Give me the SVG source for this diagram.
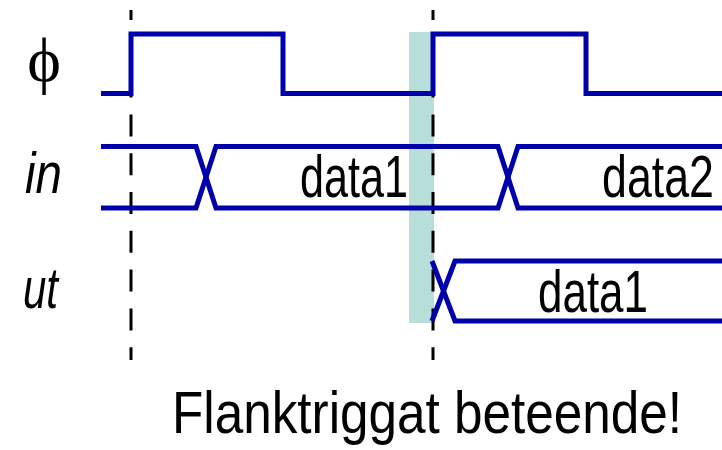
<svg xmlns="http://www.w3.org/2000/svg" width="722" height="450" viewBox="0 0 722 450">
  <style>
    .wave { fill: none; stroke: #0000AA; stroke-width: 5; stroke-linejoin: miter; stroke-linecap: butt; }
    .mark { stroke: #000; stroke-width: 3; stroke-dasharray: 22 16.8; stroke-dashoffset: 12; }
    .lbl { font-family: "Liberation Sans Narrow", "Liberation Sans", Arial, sans-serif; font-size: 57px; font-style: italic; fill: #000; }
    .data { font-family: "Liberation Sans Narrow", "Liberation Sans", Arial, sans-serif; font-size: 59px; fill: #000; }
    .title { font-family: "Liberation Sans Narrow", "Liberation Sans", Arial, sans-serif; font-size: 60px; fill: #000; }
  </style>
  <rect width="722" height="450" fill="#fff"/>

  <!-- sampling window just before the rising clock edge -->
  <rect id="window" x="409" y="32" width="25" height="291" fill="#B7DED8"/>

  <!-- clock edge markers -->
  <g id="markers">
    <line class="mark" x1="131" y1="10" x2="131" y2="360"/>
    <line class="mark" x1="433" y1="10" x2="433" y2="360"/>
  </g>

  <!-- signal labels -->
  <g id="labels">
    <text x="44" y="81" text-anchor="middle" font-family="Liberation Serif, serif" font-size="64">ϕ</text>
    <text class="lbl" x="25" y="193" textLength="37" lengthAdjust="spacingAndGlyphs">in</text>
    <text class="lbl" x="23" y="308" textLength="35" lengthAdjust="spacingAndGlyphs">ut</text>
  </g>

  <!-- clock -->
  <g id="clock">
    <path class="wave" d="M101,93.5 H131 V34 H283 V93.5 H433 V34 H586 V93.5 H722"/>
  </g>

  <!-- input bus -->
  <g id="input">
    <path class="wave" d="M101,146.5 H196 L216,208 H498 L518,146.5 H722"/>
    <path class="wave" d="M101,208 H196 L216,146.5 H498 L518,208 H722"/>
    <text class="data" x="300" y="197" textLength="108" lengthAdjust="spacingAndGlyphs">data1</text>
    <text class="data" x="602" y="197" textLength="112" lengthAdjust="spacingAndGlyphs">data2</text>
  </g>

  <!-- output bus -->
  <g id="output">
    <path class="wave" d="M432,261 L455,321 H722"/>
    <path class="wave" d="M432,321 L455,261 H722"/>
    <text class="data" x="538" y="312" textLength="110" lengthAdjust="spacingAndGlyphs">data1</text>
  </g>

  <g id="caption">
    <text class="title" x="172" y="433" textLength="510" lengthAdjust="spacingAndGlyphs">Flanktriggat beteende!</text>
  </g>
</svg>
